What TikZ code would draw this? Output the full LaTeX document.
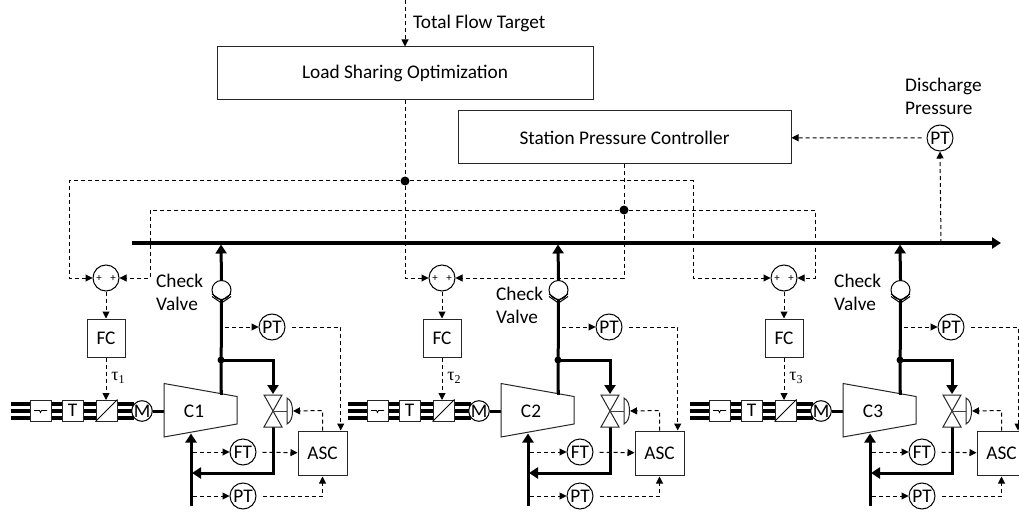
\documentclass[tikz,border=0pt]{standalone}
\usepackage{fontspec}
\setmainfont{Carlito}
\newfontfamily\taufont{Liberation Serif}
\usetikzlibrary{arrows.meta}
\tikzset{
  x=1pt,y=-1pt,
  sig/.style={line width=1pt,dash pattern=on 4pt off 3pt,-{Triangle[length=7pt,width=7pt]}},
  signa/.style={line width=1pt,dash pattern=on 4pt off 3pt},
  pipe/.style={line width=3pt,draw=black},
  pipetip/.style={pipe,-{Triangle[length=9pt,width=11pt]}},
  shaftline/.style={line width=3.2pt,draw=black},
  inst/.style={circle,draw=black,line width=1pt,fill=white,minimum size=26pt,inner sep=0pt,font=\fontsize{19.3}{19.3}\selectfont},
  sumc/.style={circle,draw=black,line width=1pt,fill=white,minimum size=26pt,inner sep=0pt},
  boxn/.style={rectangle,draw=black!85,line width=1pt,fill=white,inner sep=0pt,font=\fontsize{19.3}{19.3}\selectfont},
  txt/.style={inner sep=0pt,font=\fontsize{19.3}{19.3}\selectfont,align=left,anchor=west},
  plus/.style={inner sep=0pt,font=\fontsize{11}{11}\selectfont},
  dot/.style={circle,fill=black,inner sep=0pt,minimum size=#1},
}
\newcommand{\cmod}[6]{%
% #1 index, #2 shift, #3 sum shift, #4 label x, #5 label y, #6 ASC feed x
\begin{scope}[shift={(#3,0)}]
  \node[sumc] (s#1) at (106,278) {};
  \node[plus] at (99,278) {+};
  \node[plus] at (113,278) {+};
  \node[boxn,minimum width=38pt,minimum height=38pt] (fc#1) at (106,338) {\raisebox{-1pt}{FC}};
  \node[inner sep=0pt,font=\fontsize{18}{18}\selectfont] at (118,378) {\taufont τ\raisebox{-3pt}{\fontsize{12}{12}\selectfont #1}};
  \coordinate (ct#1) at (106,400);
\end{scope}
\node[txt] at (#4,#5) {Check\\[4pt]Valve};
\begin{scope}[shift={(#2,0)}]
  % shaft
  \coordinate (sl#1) at (11,411);
  \coordinate (sr#1) at (134,411);
  \draw[shaftline] ([yshift=-7pt]sl#1) -- ([yshift=-7pt]sr#1);
  \draw[shaftline] (sl#1) -- (sr#1);
  \draw[shaftline] ([yshift=7pt]sl#1) -- ([yshift=7pt]sr#1);
  \node[boxn,minimum width=21pt,minimum height=21pt] (sw#1) at (40.5,410.5) {};
  \draw[line width=.8pt] (34,410.5) -- (39.5,410.5) -- (40.5,412.5) -- (41.5,410.5) -- (47,410.5);
  \node[boxn,minimum width=21pt,minimum height=21pt] (t#1) at (72.5,410.5) {T};
  \node[boxn,minimum width=21pt,minimum height=21pt] (cv#1) at (106.5,410.5) {};
  \draw[line width=1pt] (cv#1.south west) -- (cv#1.north east);
  \node[inst,minimum size=20pt] (m#1) at (142,411) {M};
  \draw[line width=3pt] (m#1) -- (164,411);
  % compressor
  \coordinate (ca#1) at (164,383.5);
  \coordinate (cb#1) at (237,396.5);
  \coordinate (cc#1) at (237,424);
  \coordinate (cd#1) at (164,437);
  \coordinate (cout#1) at (221,394);
  \coordinate (cin#1) at (191,433.5);
  \coordinate (inl#1) at (191,506);
  \coordinate (jb#1) at (221,244.5);
  \coordinate (rc#1) at (273,360);
  \coordinate (rd#1) at (273,473);
  \coordinate (re#1) at (192,473);
  % pipes
  \node[circle,draw=black,line width=1pt,fill=white,minimum size=19pt,inner sep=0pt] (chk#1) at (221.5,290) {};
  \node[dot=7pt] (j#1) at (221,360) {};
  \draw[pipe] (cout#1) -- (chk#1.south);
  \draw[pipetip] (chk#1.north) -- (jb#1);
  \draw[line width=1pt] (212,294) -- (221.5,300.5) -- (231,294);
  \draw[line width=1pt] (212,296.5) -- (221.5,303) -- (231,296.5);
  \draw[pipetip] (j#1.center) -- (rc#1) -- (273,394);
  \draw[line width=1pt,draw=black!85,fill=white] (ca#1) -- (cb#1) -- (cc#1) -- (cd#1) -- cycle;
  \draw[pipetip] (inl#1) -- (cin#1);
  \draw[pipetip] (273,427) -- (rd#1) -- (re#1);
  \draw[pipe] (221,395) -- (221,390);
  \node[inner sep=0pt,font=\fontsize{19.3}{19.3}\selectfont] at (194,411.5) {C#1};
  % valve
  \coordinate (va#1) at (264,395);
  \coordinate (vb#1) at (282,395);
  \coordinate (vc#1) at (264,427);
  \coordinate (vd#1) at (282,427);
  \coordinate (vm#1) at (273,411);
  \draw[line width=1pt,draw=black!85,fill=white] (va#1) -- (vb#1) -- (vc#1) -- (vd#1) -- cycle;
  \draw[line width=1pt,draw=black!75] (vm#1) -- (287,411);
  \draw[line width=1pt,draw=black!85,fill=white] (287,398) .. controls (291,400) and (292.5,405) .. (292.5,411) .. controls (292.5,417) and (291,422) .. (287,424) -- cycle;
  \coordinate (act#1) at (293,411);
  % instruments
  \node[inst] (pt#1) at (272,327) {PT};
  \node[inst] (ft#1) at (243,452) {FT};
  \node[inst] (pl#1) at (243,496) {PT};
  \node[boxn,minimum width=49pt,minimum height=44pt] (asc#1) at (322.5,453) {\raisebox{-1pt}{ASC}};
  % signals
  \coordinate (ta#1) at (225,327);
  \coordinate (tb#1) at (#6,327);
  \coordinate (fa#1) at (193,452);
  \coordinate (la#1) at (193,496);
  \coordinate (lb#1) at (322.5,496);
  \coordinate (ac#1) at (322.5,410.5);
  \draw[sig] (ta#1) -- (pt#1);
  \draw[sig,shorten <=6pt] (pt#1) -- (tb#1) -- (tb#1 |- asc#1.north);
  \draw[sig] (fa#1) -- (ft#1);
  \draw[sig,shorten <=6pt] (ft#1) -- (asc#1);
  \draw[sig] (la#1) -- (pl#1);
  \draw[sig,shorten <=6pt,shorten >=1pt] (pl#1) -- (lb#1) -- (asc#1.south);
  \draw[sig] (asc#1.north) -- (ac#1) -- (act#1);
\end{scope}
\draw[sig] (s#1) -- (fc#1);
\draw[sig] (fc#1) -- (ct#1);
}
\begin{document}
\begin{tikzpicture}
\useasboundingbox (0,0) rectangle (1019,513);
\clip (0,0) rectangle (1019,513);
\coordinate (busl) at (132,243);
\coordinate (busr) at (1001,243);
\draw[line width=3.2pt,-{Triangle[length=9pt,width=11pt]}] (busl) -- (busr);
\cmod{1}{0}{0}{156}{292.5}{340.7}
\cmod{2}{337}{336}{496}{305.5}{340.7}
\cmod{3}{679}{678}{834}{292.5}{339}
\node[boxn,minimum width=376pt,minimum height=53pt] (lso) at (405,73.5) {\raisebox{-1.5pt}{Load Sharing Optimization}};
\node[boxn,minimum width=333pt,minimum height=53pt] (spc) at (624.5,137.5) {\raisebox{-1pt}{Station Pressure Controller}};
\coordinate (tft) at (405,0);
\node[inner sep=0pt,font=\fontsize{19.3}{19.3}\selectfont,anchor=west] at (413,23.5) {Total Flow Target};
\node[txt] at (905,96.5) {Discharge\\[4pt]Pressure};
\node[inst] (dpt) at (940,138) {PT};
\coordinate (bd) at (941,243);
\draw[sig] (tft) -- (lso);
\draw[sig] (bd) -- (dpt.south);
\draw[sig,shorten <=5pt] (dpt) -- (spc);
\node[dot=9pt] (d1) at (405,181) {};
\node[dot=9pt] (d2) at (624,210) {};
\coordinate (l1) at (69,181);
\coordinate (r1) at (693,181);
\coordinate (l2) at (150,210);
\coordinate (r2) at (815,210);
\draw[signa] (lso.south -| d1) -- (d1);
\draw[signa] (spc.south -| d2) -- (d2);
\draw[sig] (d1) -- (l1) -- (l1 |- s1) -- (s1);
\draw[sig] (d1) -- (r1) -- (r1 |- s3) -- (s3);
\draw[sig] (d1) -- (d1 |- s2) -- (s2);
\draw[sig] (d2) -- (l2) -- (l2 |- s1) -- (s1);
\draw[sig] (d2) -- (r2) -- (r2 |- s3) -- (s3);
\draw[sig] (d2) -- (d2 |- s2) -- (s2);
\end{tikzpicture}
\end{document}
